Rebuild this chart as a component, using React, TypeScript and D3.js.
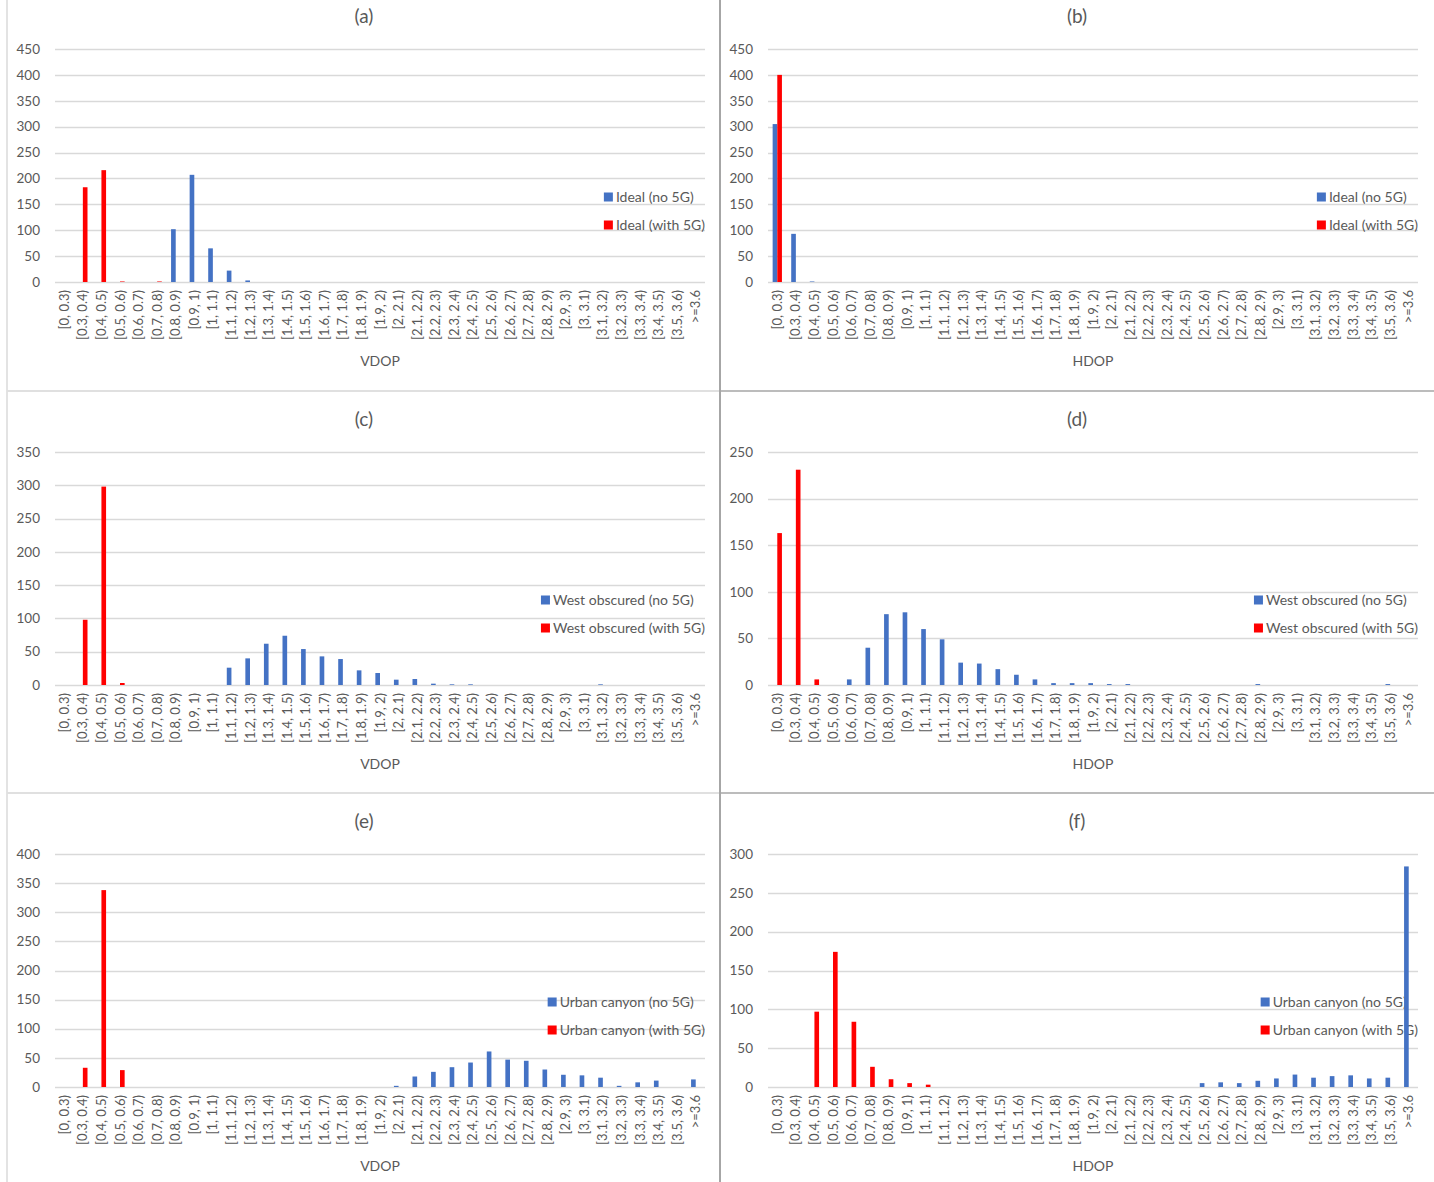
import React, { useRef, useEffect } from 'react';
import * as d3 from 'd3';

const categories = [
  '[0, 0.3)', '[0.3, 0.4)', '[0.4, 0.5)', '[0.5, 0.6)', '[0.6, 0.7)', '[0.7, 0.8)', '[0.8, 0.9)',
  '[0.9, 1)', '[1, 1.1)', '[1.1, 1.2)', '[1.2, 1.3)', '[1.3, 1.4)', '[1.4, 1.5)', '[1.5, 1.6)',
  '[1.6, 1.7)', '[1.7, 1.8)', '[1.8, 1.9)', '[1.9, 2)', '[2, 2.1)', '[2.1, 2.2)', '[2.2, 2.3)',
  '[2.3, 2.4)', '[2.4, 2.5)', '[2.5, 2.6)', '[2.6, 2.7)', '[2.7, 2.8)', '[2.8, 2.9)', '[2.9, 3)',
  '[3, 3.1)', '[3.1, 3.2)', '[3.2, 3.3)', '[3.3, 3.4)', '[3.4, 3.5)', '[3.5, 3.6)', '>=3.6',
];

// (a) Ideal, VDOP
const idealVdopNo5G = [0, 0, 0, 0, 0, 0, 102, 207, 65, 22, 3, 0, 0, 0, 0, 0, 0, 0, 0, 0, 0, 0, 0, 0, 0, 0, 0, 0, 0, 0, 0, 0, 0, 0, 0];
const idealVdopWith5G = [0, 183, 216, 1, 0, 1, 0, 0, 0, 0, 0, 0, 0, 0, 0, 0, 0, 0, 0, 0, 0, 0, 0, 0, 0, 0, 0, 0, 0, 0, 0, 0, 0, 0, 0];
// (b) Ideal, HDOP
const idealHdopNo5G = [305, 93, 1, 0, 0, 0, 0, 0, 0, 0, 0, 0, 0, 0, 0, 0, 0, 0, 0, 0, 0, 0, 0, 0, 0, 0, 0, 0, 0, 0, 0, 0, 0, 0, 0];
const idealHdopWith5G = [400, 0, 0, 0, 0, 0, 0, 0, 0, 0, 0, 0, 0, 0, 0, 0, 0, 0, 0, 0, 0, 0, 0, 0, 0, 0, 0, 0, 0, 0, 0, 0, 0, 0, 0];
// (c) West obscured, VDOP
const westVdopNo5G = [0, 0, 0, 0, 0, 0, 0, 0, 0, 26, 40, 62, 74, 54, 43, 39, 22, 18, 8, 9, 2, 1, 1, 0, 0, 0, 0, 0, 0, 1, 0, 0, 0, 0, 0];
const westVdopWith5G = [0, 98, 298, 3, 0, 0, 0, 0, 0, 0, 0, 0, 0, 0, 0, 0, 0, 0, 0, 0, 0, 0, 0, 0, 0, 0, 0, 0, 0, 0, 0, 0, 0, 0, 0];
// (d) West obscured, HDOP
const westHdopNo5G = [0, 0, 0, 0, 6, 40, 76, 78, 60, 49, 24, 23, 17, 11, 6, 2, 2, 2, 1, 1, 0, 0, 0, 0, 0, 0, 1, 0, 0, 0, 0, 0, 0, 1, 0];
const westHdopWith5G = [163, 231, 6, 0, 0, 0, 0, 0, 0, 0, 0, 0, 0, 0, 0, 0, 0, 0, 0, 0, 0, 0, 0, 0, 0, 0, 0, 0, 0, 0, 0, 0, 0, 0, 0];
// (e) Urban canyon, VDOP
const urbanVdopNo5G = [0, 0, 0, 0, 0, 0, 0, 0, 0, 0, 0, 0, 0, 0, 0, 0, 0, 0, 2, 18, 26, 34, 42, 61, 47, 45, 30, 21, 20, 16, 2, 8, 11, 0, 13];
const urbanVdopWith5G = [0, 33, 338, 29, 0, 0, 0, 0, 0, 0, 0, 0, 0, 0, 0, 0, 0, 0, 0, 0, 0, 0, 0, 0, 0, 0, 0, 0, 0, 0, 0, 0, 0, 0, 0];
// (f) Urban canyon, HDOP
const urbanHdopNo5G = [0, 0, 0, 0, 0, 0, 0, 0, 0, 0, 0, 0, 0, 0, 0, 0, 0, 0, 0, 0, 0, 0, 0, 5, 6, 5, 8, 11, 16, 12, 14, 15, 11, 12, 284];
const urbanHdopWith5G = [0, 0, 97, 174, 84, 26, 10, 5, 3, 0, 0, 0, 0, 0, 0, 0, 0, 0, 0, 0, 0, 0, 0, 0, 0, 0, 0, 0, 0, 0, 0, 0, 0, 0, 0];

const panelTitles = ['(a)', '(b)', '(c)', '(d)', '(e)', '(f)'];
const axisTitles = ['VDOP', 'HDOP', 'VDOP', 'HDOP', 'VDOP', 'HDOP'];
const scenarioNames = ['Ideal', 'Ideal', 'West obscured', 'West obscured', 'Urban canyon', 'Urban canyon'];
const yMaxes = [450, 450, 350, 250, 400, 300];
const seriesNo5G = [idealVdopNo5G, idealHdopNo5G, westVdopNo5G, westHdopNo5G, urbanVdopNo5G, urbanHdopNo5G];
const seriesWith5G = [idealVdopWith5G, idealHdopWith5G, westVdopWith5G, westHdopWith5G, urbanVdopWith5G, urbanHdopWith5G];

const W = 1434;
const H = 1182;
const FONT = 'Lato, "Open Sans", sans-serif';
const TEXT = '#595959';
const GRID = '#d9d9d9';
const BLUE = '#4472c4';
const RED = '#ff0000';

const App: React.FC = () => {
  const svgRef = useRef<SVGSVGElement>(null);

  useEffect(() => {
    if (!svgRef.current) return;
    const svg = d3.select(svgRef.current);
    svg.selectAll('*').remove();

    // panel frame lines (stitched screenshots)
    const frame = svg.append('g');
    frame.append('line').attr('x1', 7).attr('x2', 7).attr('y1', 0).attr('y2', H)
      .attr('stroke', '#e3e3e3').attr('stroke-width', 2);
    [391, 793].forEach(y => {
      frame.append('line').attr('x1', 7).attr('x2', 720).attr('y1', y).attr('y2', y)
        .attr('stroke', '#e0e0e0').attr('stroke-width', 2);
      frame.append('line').attr('x1', 720).attr('x2', W).attr('y1', y).attr('y2', y)
        .attr('stroke', '#a6a6a6').attr('stroke-width', 1.5);
    });
    frame.append('line').attr('x1', 720).attr('x2', 720).attr('y1', 0).attr('y2', H)
      .attr('stroke', '#a6a6a6').attr('stroke-width', 2);

    const colLeft = [55, 768];
    const colRight = [705, 1418];
    const colMid = [364, 1077];
    const rowTop = [49, 452, 854];
    const rowBottom = [282, 685, 1087];

    panelTitles.forEach((title, i) => {
      const col = i % 2;
      const row = Math.floor(i / 2);
      const left = colLeft[col];
      const right = colRight[col];
      const top = rowTop[row];
      const bottom = rowBottom[row];

      const x = d3.scaleBand<string>().domain(categories).range([left, right]);
      const y = d3.scaleLinear().domain([0, yMaxes[i]]).range([bottom, top]);
      const barW = x.bandwidth() / 4;

      const g = svg.append('g');

      g.append('text')
        .attr('x', colMid[col]).attr('y', top - 33)
        .attr('dy', '0.35em')
        .attr('text-anchor', 'middle')
        .style('font-family', FONT).style('font-size', '19px').style('fill', TEXT)
        .text(title);

      // gridlines + y labels
      const ticks = d3.range(0, yMaxes[i] + 1, 50);
      g.append('g').selectAll('line').data(ticks).join('line')
        .attr('x1', left).attr('x2', right)
        .attr('y1', d => Math.round(y(d)) + 0.5).attr('y2', d => Math.round(y(d)) + 0.5)
        .attr('stroke', GRID).attr('stroke-width', 1.3);
      g.append('g').selectAll('text').data(ticks).join('text')
        .attr('x', left - 15).attr('y', d => y(d))
        .attr('dy', '0.35em')
        .attr('text-anchor', 'end')
        .style('font-family', FONT).style('font-size', '13.5px').style('fill', TEXT)
        .text(d => d);

      // x tick labels
      g.append('g').selectAll('text').data(categories).join('text')
        .attr('transform', d => `translate(${x(d)! + x.bandwidth() / 2},${bottom + 8}) rotate(-90)`)
        .attr('dy', '0.35em')
        .attr('text-anchor', 'end')
        .style('font-family', FONT).style('font-size', '13px').style('fill', TEXT)
        .text(d => d);

      g.append('text')
        .attr('x', (left + right) / 2).attr('y', bottom + 79)
        .attr('dy', '0.35em')
        .attr('text-anchor', 'middle')
        .style('font-family', FONT).style('font-size', '14px').style('fill', TEXT)
        .text(axisTitles[i]);

      // legend
      const legendItems = [
        { label: `${scenarioNames[i]} (no 5G)`, color: BLUE },
        { label: `${scenarioNames[i]} (with 5G)`, color: RED },
      ];
      const leg = g.append('g');
      const texts = leg.selectAll('text').data(legendItems).join('text')
        .attr('y', (_, k) => top + 148 + k * 28)
        .attr('dy', '0.35em')
        .style('font-family', FONT).style('font-size', '14px').style('fill', TEXT)
        .text(d => d.label);
      let maxW = 0;
      texts.each(function () {
        maxW = Math.max(maxW, (this as SVGTextElement).getComputedTextLength());
      });
      const textX = right - maxW;
      texts.attr('x', textX);
      leg.selectAll('rect').data(legendItems).join('rect')
        .attr('x', textX - 12).attr('y', (_, k) => top + 148 + k * 28 - 4.5)
        .attr('width', 9).attr('height', 9)
        .attr('fill', d => d.color);

      // bars
      const bars = g.append('g');
      bars.selectAll('rect.no').data(seriesNo5G[i]).join('rect')
        .attr('class', 'no')
        .attr('x', (_, k) => x(categories[k])! + x.bandwidth() / 2 - barW)
        .attr('y', d => y(d))
        .attr('width', barW)
        .attr('height', d => bottom - y(d))
        .attr('fill', BLUE);
      bars.selectAll('rect.with').data(seriesWith5G[i]).join('rect')
        .attr('class', 'with')
        .attr('x', (_, k) => x(categories[k])! + x.bandwidth() / 2)
        .attr('y', d => y(d))
        .attr('width', barW)
        .attr('height', d => bottom - y(d))
        .attr('fill', RED);
    });
  }, []);

  return (
    <svg
      ref={svgRef}
      width={W}
      height={H}
      style={{ position: 'absolute', left: 0, top: 0, background: '#fff' }}
    />
  );
};

export default App;
